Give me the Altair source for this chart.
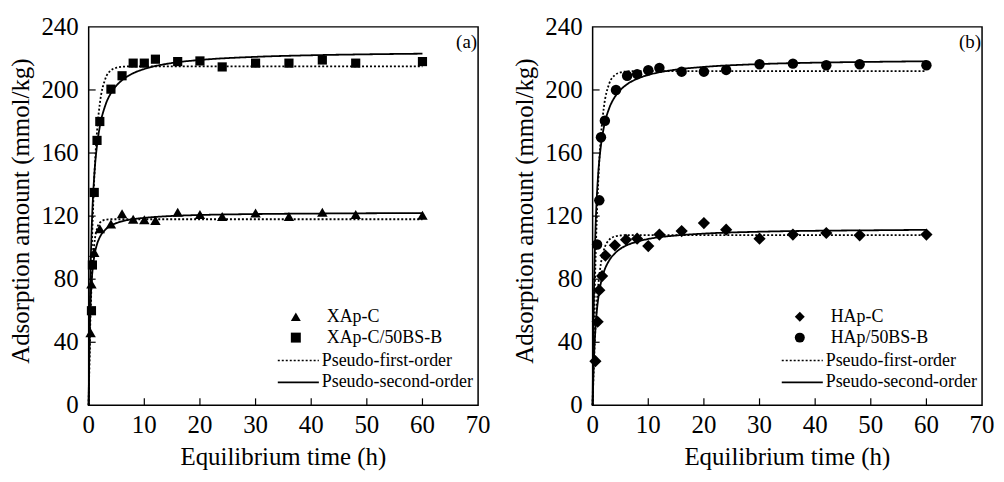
import altair as alt
import pandas as pd

FONT = "Liberation Serif"

# ---------------- data ----------------
x_ticks = [0, 10, 20, 30, 40, 50, 60, 70]
y_ticks = [0, 40, 80, 120, 160, 200, 240]
inner_x_ticks = [10, 20, 30, 40, 50, 60]
inner_y_ticks = [40, 80, 120, 160, 200]
x_title = "Equilibrium time (h)"
y_title = "Adsorption amount (mmol/kg)"

models = ["Pseudo-first-order", "Pseudo-second-order"]

# Panel (a)
a_names = ["XAp-C", "XAp-C/50BS-B"]
a_tri_t = [0.35, 0.5, 1.0, 2.0, 4.0, 6, 8, 10, 12, 16, 20, 24, 30, 36, 42, 48, 60]
a_tri_q = [46, 77, 97, 112, 115, 121.5, 118, 117.7, 117.3, 122.5, 121, 119.8, 122, 119.8, 122.5, 121, 120.5]
a_sq_t = [0.5, 0.67, 1.0, 1.5, 2.0, 4, 6, 8, 10, 12, 16, 20, 24, 30, 36, 42, 48, 60]
a_sq_q = [60, 89, 135, 168, 180, 200.5, 209, 217, 217, 219.5, 218, 218.4, 214.6, 217, 217, 219, 217, 218]

fit_t = [0, 0.1, 0.25, 0.5, 0.75, 1, 1.5, 2, 3, 4, 5, 6, 8, 10, 15, 20, 30, 40, 50, 60]
a_tri_pfo = [0, 21.4, 46.4, 74.6, 91.7, 102.0, 112.1, 115.8, 117.7, 118.0, 118, 118, 118, 118, 118, 118, 118, 118, 118, 118]
a_tri_pso = [0, 30.7, 55.8, 76.7, 87.6, 94.3, 102.2, 106.6, 111.4, 114.0, 115.6, 116.7, 118.1, 118.9, 120.1, 120.7, 121.3, 121.6, 121.8, 121.9]
a_sq_pfo = [0, 22.4, 51.7, 91.0, 120.9, 143.4, 173.7, 191.2, 207.1, 212.4, 214.1, 214.7, 215, 215, 215, 215, 215, 215, 215, 215]
a_sq_pso = [0, 34.8, 70.6, 107.5, 130.2, 145.5, 164.9, 176.7, 190.3, 198.0, 202.8, 206.2, 210.6, 213.3, 217.1, 219.0, 221.0, 222.0, 222.6, 223.0]

# Panel (b)
b_names = ["HAp-C", "HAp/50BS-B"]
b_dia_t = [0.5, 0.9, 1.2, 1.7, 2.3, 4, 6, 8, 10, 12, 16, 20, 24, 30, 36, 42, 48, 60]
b_dia_q = [28, 53, 73, 82, 95, 101.5, 105, 105.7, 101, 108.3, 110.5, 115.6, 111.4, 105.7, 108.3, 109.3, 107.8, 108.3]
b_cir_t = [0.8, 1.2, 1.5, 2.2, 4.2, 6.2, 8, 10, 12, 16, 20, 24, 30, 36, 42, 48, 60]
b_cir_q = [102, 130, 170, 180.5, 200, 209, 210, 212.5, 214, 211.6, 211.6, 212.7, 216.3, 216.7, 215.7, 216.3, 215.7]

b_dia_pfo = [0, 12.2, 28.0, 48.7, 64.1, 75.5, 90.2, 98.2, 105.1, 107.1, 107.7, 108, 108, 108, 108, 108, 108, 108, 108, 108]
b_dia_pso = [0, 14.7, 30.7, 48.2, 59.6, 67.5, 77.9, 84.4, 92.0, 96.4, 99.3, 101.3, 103.8, 105.5, 107.7, 108.9, 110.1, 110.7, 111.0, 111.3]
b_cir_pfo = [0, 22.1, 51.0, 89.7, 119.1, 141.4, 171.3, 188.5, 204.2, 209.4, 211.1, 211.7, 212, 212, 212, 212, 212, 212, 212, 212]
b_cir_pso = [0, 36.7, 73.3, 110, 132, 146.7, 165, 176, 188.6, 195.6, 200, 203.1, 207.1, 209.5, 212.9, 214.6, 216.4, 217.3, 217.8, 218.2]

W, H = 391, 380


def pts_frame(names, ts, qs):
    rows = []
    for name, tt, qq in zip(names, ts, qs):
        for a, b in zip(tt, qq):
            rows.append({"t": a, "q": b, "series": name})
    return pd.DataFrame(rows)


def fit_frame(names, fits):
    rows = []
    for name, (pfo, pso) in zip(names, fits):
        for m, vals in zip(models, (pfo, pso)):
            for a, b in zip(fit_t, vals):
                rows.append({"t": a, "q": b, "series": name, "model": m, "key": name + m})
    return pd.DataFrame(rows)


def panel(names, shapes, sizes, pts, fits, tag):
    xs = alt.Scale(domain=[0, 70], nice=False, zero=False)
    ys = alt.Scale(domain=[0, 240], nice=False)

    lines = alt.Chart(fits).mark_line(color="black", strokeWidth=1.8, interpolate="monotone").encode(
        x=alt.X("t:Q", scale=xs, axis=None),
        y=alt.Y("q:Q", scale=ys, axis=None),
        strokeDash=alt.StrokeDash(
            "model:N",
            scale=alt.Scale(domain=models, range=[[2, 2], [1, 0]]),
            legend=alt.Legend(orient="none", legendX=189, legendY=325, title=None,
                              symbolType="stroke", symbolSize=1700, symbolStrokeWidth=1.7,
                              symbolStrokeColor="black", labelOffset=2, clipHeight=20, rowPadding=2,
                              labelFont=FONT, labelFontSize=18, labelColor="black"),
        ),
        detail="key:N",
    )
    points = alt.Chart(pts).mark_point(filled=True, color="black", opacity=1).encode(
        x=alt.X("t:Q", scale=xs, axis=None),
        y=alt.Y("q:Q", scale=ys, axis=None),
        shape=alt.Shape("series:N", scale=alt.Scale(domain=names, range=shapes),
                        legend=alt.Legend(orient="none", legendX=199, legendY=282, title=None,
                                          symbolSize=100, symbolFillColor="black", symbolStrokeColor="black",
                                          labelOffset=22, rowPadding=3,
                                          labelFont=FONT, labelFontSize=18, labelColor="black")),
        size=alt.condition(alt.datum.series == names[0], alt.value(sizes[0]), alt.value(sizes[1])),
    )
    xt = alt.Chart(pd.DataFrame({"t": inner_x_ticks})).mark_rule(color="black", strokeWidth=1.2).encode(
        x=alt.X("t:Q", scale=xs, axis=None), y=alt.value(H), y2=alt.value(H - 7))
    yt = alt.Chart(pd.DataFrame({"q": inner_y_ticks})).mark_rule(color="black", strokeWidth=1.2).encode(
        y=alt.Y("q:Q", scale=ys, axis=None), x=alt.value(0), x2=alt.value(7))
    xl = alt.Chart(pd.DataFrame({"t": x_ticks, "lab": [str(v) for v in x_ticks]})).mark_text(
        font=FONT, fontSize=25, color="black", align="center", baseline="top").encode(
        x=alt.X("t:Q", scale=xs, axis=None), y=alt.value(H + 8), text="lab:N")
    yl = alt.Chart(pd.DataFrame({"q": y_ticks, "lab": [str(v) for v in y_ticks]})).mark_text(
        font=FONT, fontSize=25, color="black", align="right", baseline="middle").encode(
        y=alt.Y("q:Q", scale=ys, axis=None), x=alt.value(-10), text="lab:N")
    xtl = alt.Chart(pd.DataFrame({"lab": [x_title]})).mark_text(
        font=FONT, fontSize=25, color="black", align="center", baseline="middle").encode(
        x=alt.value(W / 2), y=alt.value(H + 52), text="lab:N")
    ytl = alt.Chart(pd.DataFrame({"lab": [y_title]})).mark_text(
        font=FONT, fontSize=25, color="black", align="center", baseline="middle", angle=270).encode(
        x=alt.value(-68), y=alt.value(H / 2 - 5), text="lab:N")
    lab = alt.Chart(pd.DataFrame({"label": [tag]})).mark_text(
        font=FONT, fontSize=19, color="black", align="right", baseline="middle").encode(
        text="label:N", x=alt.value(W - 1), y=alt.value(15))
    return alt.layer(lines, points, xt, yt, xl, yl, xtl, ytl, lab).resolve_scale(
        shape="independent", strokeDash="independent"
    ).properties(width=W, height=H)


pa = panel(a_names, ["triangle-up", "square"], [110, 85],
           pts_frame(a_names, [a_tri_t, a_sq_t], [a_tri_q, a_sq_q]),
           fit_frame(a_names, [(a_tri_pfo, a_tri_pso), (a_sq_pfo, a_sq_pso)]), "(a)")
pb = panel(b_names, ["diamond", "circle"], [150, 110],
           pts_frame(b_names, [b_dia_t, b_cir_t], [b_dia_q, b_cir_q]),
           fit_frame(b_names, [(b_dia_pfo, b_dia_pso), (b_cir_pfo, b_cir_pso)]), "(b)")

chart = alt.hconcat(pa, pb, spacing=20).resolve_scale(
    shape="independent", strokeDash="independent"
).resolve_legend(shape="independent", strokeDash="independent").properties(
    padding={"left": 0, "top": 5, "right": 0, "bottom": 5}
).configure(font=FONT).configure_view(stroke="black", strokeWidth=1.5)

chart.save("out.html", embed_options={"renderer": "svg", "actions": False})
